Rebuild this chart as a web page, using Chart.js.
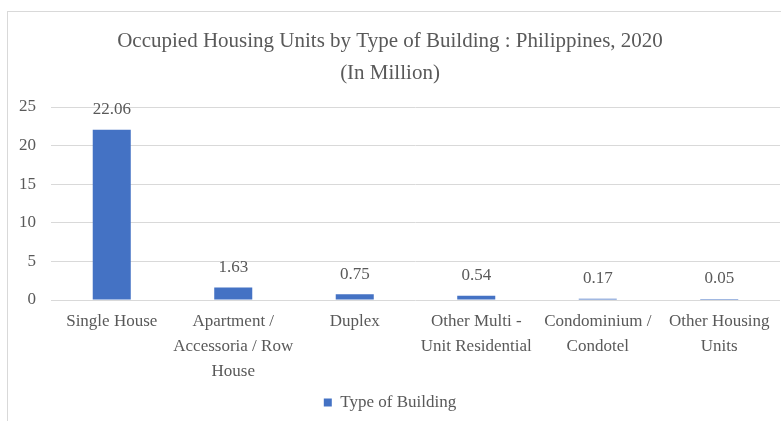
<!DOCTYPE html>
<html>
<head>
<meta charset="utf-8">
<script src="https://cdn.jsdelivr.net/npm/chart.js@4"></script>
<style>
  html, body { margin: 0; padding: 0; background: #fff; }
  #wrap { position: relative; width: 781px; height: 421px; overflow: hidden; }
  #frame { position: absolute; left: 7px; top: 11px; width: 800px; height: 450px; border: 1px solid #d9d9d9; }
  #chartLite { position: absolute; left: 0; top: 0; }
</style>
</head>
<body>
<div id="wrap">
  <div id="frame"></div>
  <canvas id="chartLite" width="781" height="421"></canvas>
</div>
<script>
const categories = [
    ['Single House'],
    ['Apartment /', 'Accessoria / Row', 'House'],
    ['Duplex'],
    ['Other Multi -', 'Unit Residential'],
    ['Condominium /', 'Condotel'],
    ['Other Housing', 'Units']
];
const units = [22.06, 1.63, 0.75, 0.54, 0.17, 0.05];
const yTicks = [0, 5, 10, 15, 20, 25];
const titleLines = ['Occupied Housing Units by Type of Building : Philippines, 2020', '(In Million)'];

const fontFam = "'Liberation Serif', 'Times New Roman', serif";
const grey = '#595959';

// value labels above bars
const valueLabels = {
    id: 'valueLabels',
    afterDatasetsDraw(chart) {
        const ctx = chart.ctx;
        const meta = chart.getDatasetMeta(0);
        ctx.save();
        ctx.font = '17px ' + fontFam;
        ctx.fillStyle = grey;
        ctx.textAlign = 'center';
        ctx.textBaseline = 'middle';
        meta.data.forEach((bar, i) => {
            ctx.fillText(units[i].toFixed(2), bar.x, bar.y - 20);
        });
        ctx.restore();
    }
};

const ctx = document.getElementById('chartLite').getContext('2d');
const myChart = new Chart(ctx, {
    type: 'bar',
    data: {
        labels: categories,
        datasets: [{
            label: 'Type of Building',
            data: units,
            backgroundColor: '#4472C4',
            categoryPercentage: 1,
            barPercentage: 0.313,
            minBarLength: 1
        }]
    },
    options: {
        responsive: false,
        animation: false,
        layout: { padding: { left: 0, right: 1, top: 0, bottom: 0 } },
        scales: {
            x: {
                grid: { display: false },
                border: { display: false },
                ticks: {
                    color: grey,
                    font: { family: fontFam, size: 17, lineHeight: 25 / 17 },
                    padding: 1,
                    maxRotation: 0,
                    autoSkip: false
                },
                afterFit(s) { s.height = 84; }
            },
            y: {
                min: 0,
                max: 25,
                afterBuildTicks(s) { s.ticks = yTicks.map(v => ({ value: v })); },
                grid: { color: '#d9d9d9', drawTicks: false },
                border: { display: false },
                ticks: {
                    color: grey,
                    font: { family: fontFam, size: 17 },
                    padding: 15
                },
                afterFit(s) { s.width = 51; }
            }
        },
        plugins: {
            title: {
                display: true,
                text: titleLines,
                color: grey,
                font: { family: fontFam, size: 21, weight: 'normal', lineHeight: 32 / 21 },
                padding: { top: 25, bottom: 18 }
            },
            legend: {
                position: 'bottom',
                labels: {
                    color: grey,
                    font: { family: fontFam, size: 17 },
                    boxWidth: 8,
                    boxHeight: 8,
                    padding: 10
                }
            },
            tooltip: { enabled: false }
        }
    },
    plugins: [valueLabels]
});
</script>
</body>
</html>
